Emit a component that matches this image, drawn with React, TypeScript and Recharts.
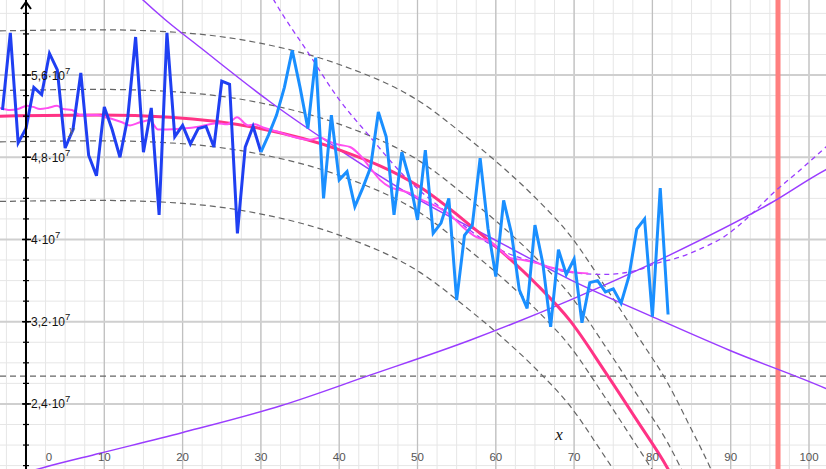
import { ComposedChart, Line, ReferenceDot, ReferenceLine, XAxis, YAxis } from "recharts";

// y values are in units of 10^7
const X_MIN = -3.32;
const X_MAX = 102.17;
const Y_MIN = 1.767;
const Y_MAX = 6.33;

const firstSampleX = -3;
const colourSplitX = 30;
const sampleValues = [
  5.26, 6.01, 4.94, 5.08, 5.48, 5.41, 5.81, 5.65, 4.89, 5.07,
  5.62, 4.82, 4.62, 5.29, 5.07, 4.8, 5.19, 5.97, 4.85, 5.28,
  4.24, 6.01, 5.0, 5.11, 4.93, 5.08, 5.1, 4.9, 5.54, 5.51,
  4.06, 4.9, 5.1, 4.85, 5.02, 5.21, 5.48, 5.84, 5.48, 5.08,
  5.77, 4.4, 5.21, 4.58, 4.66, 4.32, 4.5, 4.7, 5.24, 5.0,
  4.24, 4.85, 4.58, 4.19, 4.87, 4.06, 4.16, 4.4, 3.41, 4.04,
  4.14, 4.79, 4.11, 3.64, 4.38, 4.06, 3.51, 3.33, 4.14, 3.77,
  3.15, 3.9, 3.66, 3.81, 3.19, 3.58, 3.6, 3.49, 3.52, 3.38,
  3.64, 4.1, 4.2, 3.25, 4.5, 3.27,
];

const fitX = [-3.32, 9.45, 18.4, 29.89, 40.1, 50.32, 56.7, 60.92, 65.26, 69.48, 73.9, 78.03, 81.9, 84.8, 87.5, 90];
const fitValues = [5.2, 5.21, 5.19, 5.08, 4.87, 4.51, 4.14, 3.87, 3.56, 3.21, 2.72, 2.24, 1.78, 1.35];
const outerHighBand = [6.03, 6.04, 6.02, 5.91, 5.7, 5.34, 4.97, 4.7, 4.39, 4.04, 3.55, 3.07, 2.61, 2.18, 1.76, 1.3];
const innerHighBand = [5.45, 5.46, 5.44, 5.33, 5.12, 4.76, 4.39, 4.12, 3.81, 3.46, 2.97, 2.49, 2.03, 1.6, 1.2];
const innerLowBand = [4.95, 4.96, 4.94, 4.83, 4.62, 4.26, 3.89, 3.62, 3.31, 2.96, 2.47, 1.99, 1.53];
const outerLowBand = [4.37, 4.38, 4.36, 4.25, 4.04, 3.68, 3.31, 3.04, 2.73, 2.38, 1.89, 1.41];

const averageX = [
  -3.32, -2.04, -1.02, 0.13, 0.89, 1.79, 2.81, 3.96, 4.73, 5.87, 6.9, 7.92, 9.07, 10.09, 11.11,
  12.26, 13.28, 14.56, 15.84, 16.86, 18.01, 20.05, 22.22, 24.39, 25.67, 26.95, 28.35, 29.25,
  30.27, 32.06, 34.1, 36.27, 37.55, 38.83, 40.1, 41.38, 42.66, 43.93, 45.21, 46.49, 47.77,
  49.04, 50.7, 52.49, 54.15, 55.81, 57.6, 59.26, 60.54, 61.81, 63.47, 65.26, 66.92, 68.58,
  70.1, 71.8,
];
const averageValues = [
  5.28, 5.26, 5.27, 5.3, 5.29, 5.27, 5.28, 5.3, 5.27, 5.26, 5.21, 5.21, 5.21, 5.19, 5.17,
  5.14, 5.11, 5.14, 5.16, 5.07, 5.07, 5.08, 5.1, 5.13, 5.12, 5.19, 5.11, 5.12,
  5.09, 5.05, 5.0, 4.97, 4.99, 4.95, 4.92, 4.9, 4.82, 4.7, 4.58, 4.51, 4.48,
  4.45, 4.38, 4.32, 4.24, 4.12, 4.02, 3.98, 3.9, 3.82, 3.8, 3.77, 3.73, 3.7,
  3.68, 3.67,
];

const extrapolationX = [29.89, 31.8, 36.27, 39.72, 43.93, 48.15, 54.15, 60.54, 65.26, 69.48, 73.69, 75.86, 78.03, 80.59, 83.14, 86.46, 89.02, 92.85, 95.4, 98.47, 102.17, 103.96];
const extrapolationValues = [6.57, 6.31, 5.79, 5.39, 5.0, 4.63, 4.24, 3.9, 3.77, 3.68, 3.66, 3.67, 3.7, 3.77, 3.82, 3.92, 4.02, 4.26, 4.45, 4.65, 4.9, 5.02];

const decayX = [13.28, 14.94, 17.75, 22.22, 31.16, 40.1, 50.32, 60.54, 69.48, 79.95, 89.91, 102.17, 103.96];
const decayValues = [6.45, 6.33, 6.14, 5.87, 5.34, 4.87, 4.38, 3.97, 3.61, 3.25, 2.92, 2.55, 2.49];

const growthX = [-3.32, 2.17, 9.45, 19.92, 32.44, 43.93, 56.7, 69.48, 82.25, 95.02, 102.17, 103.96];
const growthValues = [1.66, 1.78, 1.92, 2.12, 2.38, 2.68, 3.02, 3.41, 3.85, 4.35, 4.68, 4.75];

const thresholdValue = 2.67;
const markerX = 96.04;

const xTickLabels = [0, 10, 20, 30, 40, 50, 60, 70, 80, 90, 100];
const yTicks = [2.4, 3.2, 4, 4.8, 5.6];
const yTickLabels = ["2,4", "3,2", "4", "4,8", "5,6"];

const xMinorGrid: number[] = [];
for (let v = -2.5; v <= 102.5; v += 2.5) xMinorGrid.push(v);
const yMinorGrid: number[] = [];
for (let v = 1.8; v <= 6.3; v += 0.2) yMinorGrid.push(Math.round(v * 10) / 10);
const yMajorGrid = [1.6, 2.4, 3.2, 4, 4.8, 5.6];

const toPoints = (xs: number[], ys: number[]) => ys.map((y, i) => ({ x: xs[i], y }));

const samples = sampleValues.map((y, i) => ({ x: firstSampleX + i, y }));
const earlySamples = samples.filter((p) => p.x <= colourSplitX);
const lateSamples = samples.filter((p) => p.x >= colourSplitX);

const labelFont = "'Liberation Sans', Arial, sans-serif";
const purple = "#9a3cff";
const bandGray = "#666666";

function YTickMark(props: any) {
  const { cx, cy } = props;
  return <line x1={cx - 3} x2={cx + 3} y1={cy} y2={cy} stroke="#000" strokeWidth={1.2} />;
}

function makeYLabel(label: string) {
  return function YLabel(props: any) {
    const { cx, cy } = props;
    return (
      <g>
        <line x1={cx - 4} x2={cx + 5} y1={cy} y2={cy} stroke="#000" strokeWidth={1.5} />
        <text x={cx + 5} y={cy + 4.5} fontFamily={labelFont} fontSize={12} fill="#111">
          {label}·10
          <tspan dy={-6} fontSize={9.5}>7</tspan>
        </text>
      </g>
    );
  };
}

function makeXLabel(label: number) {
  return function XLabel(props: any) {
    const { cx, cy } = props;
    return (
      <text x={cx + (label === 0 ? 23 : 0)} y={cy - 8} textAnchor="middle" fontFamily={labelFont} fontSize={11.5} fill="#555">
        {label}
      </text>
    );
  };
}

function Arrow(props: any) {
  const { cx, cy } = props;
  return <path d={`M${cx - 5},${cy + 9} L${cx},${cy + 2} L${cx + 5},${cy + 9}`} stroke="#000" strokeWidth={2} fill="none" />;
}

function makeName(name: string, size: number, color: string) {
  return function AxisName(props: any) {
    const { cx, cy } = props;
    return (
      <text x={cx} y={cy} textAnchor="middle" fontFamily="'Liberation Serif', 'DejaVu Serif', serif" fontStyle="italic" fontSize={size} fill={color}>
        {name}
      </text>
    );
  };
}

const plain = { dot: false, activeDot: false, isAnimationActive: false } as const;

export default function App() {
  return (
    <div style={{ position: "absolute", left: 0, top: 0, width: 826, height: 469, background: "#fff" }}>
      <ComposedChart width={826} height={469} margin={{ top: 0, right: 0, bottom: 0, left: 0 }}>
        <XAxis type="number" dataKey="x" domain={[X_MIN, X_MAX]} allowDataOverflow hide />
        <YAxis type="number" domain={[Y_MIN, Y_MAX]} allowDataOverflow hide />

        {xMinorGrid.map((v) => (
          <ReferenceLine key={`vx${v}`} x={v} stroke="#e6e6e6" strokeWidth={1} />
        ))}
        {yMinorGrid.map((v) => (
          <ReferenceLine key={`hy${v}`} y={v} stroke="#e6e6e6" strokeWidth={1} />
        ))}
        {xTickLabels.map((v) => (
          <ReferenceLine key={`VX${v}`} x={v} stroke="#c0c0c0" strokeWidth={1.3} />
        ))}
        {yMajorGrid.map((v) => (
          <ReferenceLine key={`HY${v}`} y={v} stroke="#cfcfcf" strokeWidth={2} />
        ))}

        <ReferenceLine y={thresholdValue} stroke={bandGray} strokeDasharray="6 4" strokeWidth={1.2} />

        <Line data={toPoints(fitX, outerHighBand)} dataKey="y" type="monotone" stroke={bandGray} strokeWidth={1.2} strokeDasharray="6 4" {...plain} />
        <Line data={toPoints(fitX, innerHighBand)} dataKey="y" type="monotone" stroke={bandGray} strokeWidth={1.2} strokeDasharray="6 4" {...plain} />
        <Line data={toPoints(fitX, innerLowBand)} dataKey="y" type="monotone" stroke={bandGray} strokeWidth={1.2} strokeDasharray="6 4" {...plain} />
        <Line data={toPoints(fitX, outerLowBand)} dataKey="y" type="monotone" stroke={bandGray} strokeWidth={1.2} strokeDasharray="6 4" {...plain} />

        <ReferenceLine x={markerX} stroke="#ff7f7f" strokeWidth={5} />

        <Line data={toPoints(decayX, decayValues)} dataKey="y" type="monotone" stroke={purple} strokeWidth={1.5} {...plain} />
        <Line data={toPoints(growthX, growthValues)} dataKey="y" type="monotone" stroke={purple} strokeWidth={1.5} {...plain} />
        <Line data={toPoints(extrapolationX, extrapolationValues)} dataKey="y" type="monotone" stroke={purple} strokeWidth={1.3} strokeDasharray="5 4" {...plain} />

        <Line data={toPoints(fitX, fitValues)} dataKey="y" type="monotone" stroke="#ff3385" strokeWidth={3} {...plain} />
        <Line data={toPoints(averageX, averageValues)} dataKey="y" type="monotone" stroke="#ff4ff0" strokeWidth={2} {...plain} />

        <Line data={earlySamples} dataKey="y" type="linear" stroke="#1f3ff2" strokeWidth={3} {...plain} />
        <Line data={lateSamples} dataKey="y" type="linear" stroke="#1a8fff" strokeWidth={3} {...plain} />

        <ReferenceLine x={0} stroke="#000" strokeWidth={2} />
        {yMinorGrid.map((v) => (
          <ReferenceDot key={`t${v}`} x={0} y={v} ifOverflow="visible" shape={YTickMark} />
        ))}
        {yTicks.map((v, i) => (
          <ReferenceDot key={`yl${v}`} x={0} y={v} ifOverflow="visible" shape={makeYLabel(yTickLabels[i])} />
        ))}
        <ReferenceDot x={0} y={Y_MAX} ifOverflow="visible" shape={Arrow} />
        {xTickLabels.map((v) => (
          <ReferenceDot key={`xl${v}`} x={v} y={Y_MIN} ifOverflow="visible" shape={makeXLabel(v)} />
        ))}
        <ReferenceDot x={68.07} y={2.05} ifOverflow="visible" shape={makeName("x", 17, "#111")} />
        <ReferenceDot x={5.87} y={5.03} ifOverflow="visible" shape={makeName("y", 13, "#666")} />
      </ComposedChart>
    </div>
  );
}
